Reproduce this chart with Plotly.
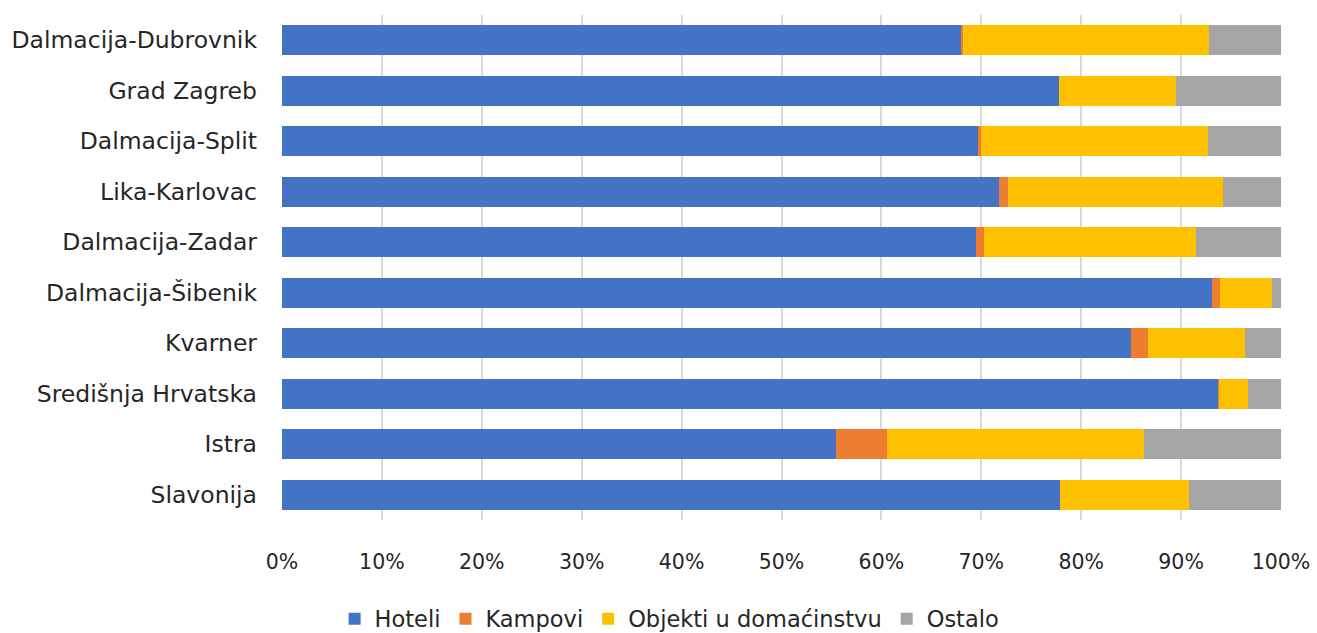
import plotly.graph_objects as go

# Regions, listed top to bottom as drawn
regions = [
    "Dalmacija-Dubrovnik", "Grad Zagreb", "Dalmacija-Split", "Lika-Karlovac",
    "Dalmacija-Zadar", "Dalmacija-Šibenik", "Kvarner", "Središnja Hrvatska",
    "Istra", "Slavonija",
]

# Share of accommodation type per region (%)
hoteli = [68.0, 77.8, 69.7, 71.8, 69.5, 93.1, 85.0, 93.7, 55.5, 77.9]
kampovi = [0.15, 0.0, 0.3, 0.9, 0.75, 0.75, 1.65, 0.1, 5.1, 0.0]
objekti = [24.65, 11.7, 22.65, 21.45, 21.2, 5.25, 9.75, 2.85, 25.7, 12.9]
ostalo = [7.2, 10.5, 7.35, 5.85, 8.55, 0.9, 3.6, 3.35, 13.7, 9.2]

x_ticks = [0, 10, 20, 30, 40, 50, 60, 70, 80, 90, 100]
x_tick_labels = [f"{t}%" for t in x_ticks]

series = [
    ("Hoteli", hoteli, "#4472C4"),
    ("Kampovi", kampovi, "#ED7D31"),
    ("Objekti u domaćinstvu", objekti, "#FFC000"),
    ("Ostalo", ostalo, "#A5A5A5"),
]

fig = go.Figure()
for name, vals, color in series:
    fig.add_trace(go.Bar(
        y=regions, x=vals, name=name, orientation="h",
        marker=dict(color=color, line=dict(width=0)),
    ))

font_family = "DejaVu Sans, Open Sans, sans-serif"
text_color = "#262626"

fig.update_layout(
    barmode="stack",
    bargap=0.41,
    width=1317, height=633,
    margin=dict(l=282, r=36, t=15, b=113),
    paper_bgcolor="white",
    plot_bgcolor="white",
    font=dict(family=font_family, size=22, color=text_color),
    xaxis=dict(
        range=[0, 100],
        tickvals=x_ticks, ticktext=x_tick_labels,
        showgrid=True, gridcolor="#D9D9D9", gridwidth=2,
        zeroline=False, showline=False,
        tickfont=dict(size=20.5, color=text_color),
        ticks="", ticklabelstandoff=27,
        automargin=False,
        fixedrange=True,
    ),
    yaxis=dict(
        autorange="reversed",
        showgrid=False, zeroline=False, showline=False,
        ticks="", ticklabelstandoff=24,
        tickfont=dict(size=23.5, color=text_color),
        automargin=False,
        fixedrange=True,
    ),
    legend=dict(
        orientation="h",
        x=0.388, xanchor="center",
        yref="container",
        y=0.022, yanchor="middle",
        font=dict(size=22.5, color=text_color),
        traceorder="normal",
        itemwidth=30,
    ),
    showlegend=True,
)

fig.write_html("out.html")
